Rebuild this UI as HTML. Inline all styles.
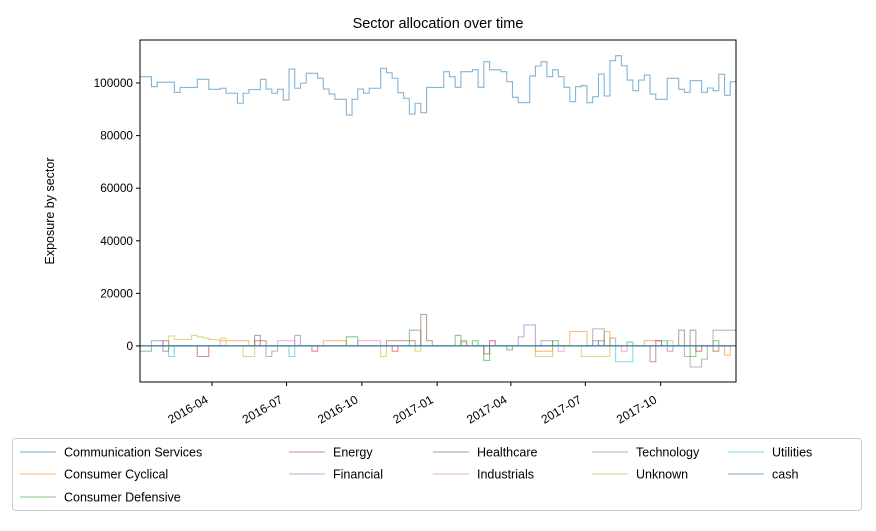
<!DOCTYPE html>
<html><head><meta charset="utf-8"><style>
body{margin:0;background:#fff;}
svg text{font-family:"Liberation Sans","DejaVu Sans",sans-serif;fill:#000;}
</style></head><body>
<svg id="chart" width="876" height="526" viewBox="0 0 876 526" xmlns="http://www.w3.org/2000/svg">
<rect width="876" height="526" fill="#fff"/>
<text x="438" y="28" text-anchor="middle" font-size="14.5">Sector allocation over time</text>
<text transform="translate(54,211) rotate(-90)" text-anchor="middle" font-size="12.5">Exposure by sector</text>
<g id="series"></g>
<g id="axes"></g>
<g id="legend"></g>
</svg>
<script>
const startDate = "2016-01-04";
const sectorNames = ["Communication Services","Consumer Cyclical","Consumer Defensive","Energy","Financial","Healthcare","Industrials","Technology","Unknown","Utilities","cash"];
const sectorColors = ["#1f77b4","#ff7f0e","#2ca02c","#d62728","#9467bd","#8c564b","#e377c2","#7f7f7f","#bcbd22","#17becf","#1f77b4"];
const commServices = [102400,102400,98600,100300,100300,100300,96400,98300,98300,98300,
101400,101400,97600,97600,98000,96100,96100,92300,96100,97500,
97500,101400,97700,96100,97600,93500,105300,98000,99900,103700,
103700,101800,97700,95800,93800,93800,87800,93800,97700,96100,
98000,98000,105600,103900,101800,96300,94200,88200,92300,88700,
98300,98300,98300,104300,102400,98350,104300,104300,105060,98350,
108100,105000,105000,104300,100500,94560,92500,92500,102650,106460,
108100,102400,105000,102400,98350,92900,98600,98980,92500,94800,
103400,95050,108480,110380,106590,101130,97080,101130,103030,95800,
93800,93800,101770,101770,97600,96450,100880,100880,96450,98100,
97080,103300,95300,100500];
const consumerCyclical = [0,0,0,0,0,0,0,0,0,0, 0,0,0,0,2000,2000,2000,2000,2000,0, 0,0,0,0,0,0,0,0,0,0, 0,0,2000,2000,2000,2000,0,0,0,0, 0,0,0,0,0,0,0,0,0,0, 0,0,0,0,0,0,1500,0,0,0, 0,0,0,0,0,0,0,0,0,-2000, -2000,-2000,0,0,0,5500,5500,5500,0,0, 0,5500,0,0,0,0,0,0,2000,2000, 2000,0,0,0,0,0,0,0,0,0, 0,0,-3500,0];
const consumerDefensive = [-2000,-2000,0,0,0,0,0,0,0,0, 0,0,0,0,0,0,0,0,0,0, 0,0,0,0,0,0,0,0,0,0, 0,0,0,0,0,0,3500,3500,0,0, 0,0,0,0,0,0,0,6000,6000,0, 0,0,0,0,0,4000,0,0,2000,0, -5500,0,0,0,-1500,0,0,0,0,0, 0,0,2000,0,0,0,0,0,0,0, 2000,0,0,0,0,1500,0,0,0,0, 0,0,0,0,0,0,-4000,0,0,0, 2000,0,0,0];
const energy = [0,0,0,0,2000,0,0,0,0,0, -4000,-4000,0,0,0,0,0,0,0,0, 2000,0,0,0,0,0,0,0,0,0, -2000,0,0,0,0,0,0,0,0,0, 0,0,0,0,-2000,0,0,0,0,0, 0,0,0,0,0,0,0,0,0,0, 0,2000,0,0,0,0,0,0,0,0, 0,0,0,0,0,0,0,0,0,0, 0,0,0,0,0,0,0,0,0,0, 2000,0,0,0,0,0,0,-2000,0,0, 0,0,0,0];
const financial = [0,0,2000,2000,0,0,0,0,0,0, 0,0,0,0,0,0,0,0,0,0, 0,0,0,0,0,0,0,4000,0,0, 0,0,0,0,0,0,0,0,0,0, 0,0,0,0,0,0,0,0,0,0, 0,0,0,0,0,0,0,0,0,0, 0,0,0,0,0,0,3500,8000,8000,0, 0,0,0,0,0,0,0,0,0,2000, 0,0,0,0,0,0,0,0,0,0, 0,0,-2000,0,0,0,0,0,0,0, 0,0,0,0];
const healthcare = [0,0,0,0,-2000,0,0,0,0,0, 0,0,0,0,0,0,0,0,0,0, 4000,2000,0,0,0,0,0,0,0,0, 0,0,0,0,0,0,0,0,0,0, 0,0,0,2000,2000,2000,2000,2000,0,12000, 2000,0,0,0,0,0,0,0,0,0, -3000,0,0,0,0,0,0,0,0,0, 0,0,0,0,0,0,0,0,0,0, 0,0,0,0,0,0,0,0,0,-6000, 0,0,0,0,6000,0,6000,0,0,0, -2000,0,0,0];
const industrials = [0,0,0,0,0,0,0,0,0,0, 0,0,0,0,0,0,0,0,0,0, 0,0,0,0,2000,2000,2000,0,0,0, 0,0,0,0,0,0,0,0,2000,2000, 2000,2000,0,0,0,0,0,0,0,0, 0,0,0,0,0,0,0,0,0,0, 0,2000,0,0,0,0,0,0,0,0, 0,0,0,-2000,0,0,0,0,0,0, 0,0,0,0,-2000,0,0,0,0,0, 0,0,0,0,0,0,0,0,0,0, 0,0,0,0];
const technology = [0,0,0,0,0,0,0,0,0,0, 0,0,0,0,0,0,0,0,0,0, 0,0,-4000,-2000,0,0,0,0,0,0, 0,0,0,0,0,0,0,0,0,0, 0,0,0,0,0,0,0,0,0,0, 0,0,0,0,0,0,2000,0,0,0, 0,0,0,0,0,0,0,0,0,0, 2000,2000,0,0,0,0,0,0,0,6500, 6500,0,3000,0,0,0,0,0,0,0, 0,0,0,0,0,-4000,-8000,-8000,-5000,0, 6000,6000,6000,6000];
const unknown = [0,0,0,0,0,3800,2500,2500,2500,4000, 3500,3000,2500,2300,3000,0,0,0,-4000,-4000, 0,0,0,0,0,0,0,0,0,0, 0,0,0,0,0,0,0,0,0,0, 0,0,-4000,0,0,0,0,0,-2000,0, 0,0,0,0,0,0,0,0,0,0, 0,0,0,0,0,0,0,0,0,-4000, -4000,-4000,0,0,0,0,0,-4000,-4000,-4000, -4000,-4000,0,0,0,0,0,0,0,0, 0,0,2000,0,0,0,0,0,0,0, 0,0,0,0];
const utilities = [0,0,0,0,0,-4000,0,0,0,0, 0,0,0,0,0,0,0,0,0,0, 0,0,0,0,0,0,-4000,0,0,0, 0,0,0,0,0,0,0,0,0,0, 0,0,0,0,0,0,0,0,0,0, 0,0,0,0,0,0,0,0,0,0, 0,0,0,0,0,0,0,0,0,0, 0,0,0,0,0,0,0,0,0,0, 0,0,0,-6000,-6000,-6000,0,0,0,0, 0,2000,0,0,0,0,0,0,0,0, 0,0,0,0];
const cash = new Array(104).fill(0);
const yTicks = [0,20000,40000,60000,80000,100000];
const xTickLabels = ["2016-04","2016-07","2016-10","2017-01","2017-04","2017-07","2017-10"];

const NS="http://www.w3.org/2000/svg";
const L=140,R=736,T=40,B=382;
const Y0=-13700,Y1=116350;
const nWeeks=104;
const t0=new Date(startDate+"T00:00:00Z").getTime();
const DAY=86400000;
function xDay(d){return L+(d/7)*(R-L)/nWeeks;}
function xs(i){return L+i*(R-L)/nWeeks;}
function ys(v){return B-(v-Y0)/(Y1-Y0)*(B-T);}
function mk(tag,attrs,parent){const e=document.createElementNS(NS,tag);for(const k in attrs)e.setAttribute(k,attrs[k]);parent.appendChild(e);return e;}

const allSeries=[commServices,consumerCyclical,consumerDefensive,energy,financial,healthcare,industrials,technology,unknown,utilities,cash];
const sg=document.getElementById('series');
const clip=mk('clipPath',{id:'pc'},sg);mk('rect',{x:L,y:T,width:R-L,height:B-T},clip);
allSeries.forEach((s,k)=>{
  let d="M"+xs(0).toFixed(2)+","+ys(s[0]).toFixed(2);
  for(let i=0;i<s.length;i++){
    d+=" V"+ys(s[i]).toFixed(2)+" H"+xs(i+1).toFixed(2);
  }
  const p=mk('path',{d:d,fill:'none',stroke:sectorColors[k],'stroke-width':1.1,'stroke-opacity':k===10?0.8:0.55,'clip-path':'url(#pc)'},sg);
  
  
});

const ax=document.getElementById('axes');
const frame=mk('rect',{x:L,y:T,width:R-L,height:B-T,fill:'none',stroke:'#000','stroke-width':1},ax);


yTicks.forEach(v=>{
  const y=ys(v);
  const tk=mk('line',{x1:L-4,x2:L,y1:y,y2:y,stroke:'#000','stroke-width':1},ax);
  
  
  const tx=mk('text',{x:L-7,y:y+4,'text-anchor':'end','font-size':11.8},ax);
  tx.textContent=String(v);
  
  
});
xTickLabels.forEach(lbl=>{
  const t=new Date(lbl+"-01T00:00:00Z").getTime();
  const x=xDay((t-t0)/DAY);
  const tk=mk('line',{x1:x,x2:x,y1:B,y2:B+4,stroke:'#000','stroke-width':1},ax);
  
  
  const tx=mk('text',{transform:'translate('+(x-3)+','+(B+20)+') rotate(-30)','text-anchor':'end','font-size':12},ax);
  tx.textContent=lbl;
  
  
});

const lg=document.getElementById('legend');
const box=mk('rect',{x:12.5,y:438.5,width:849,height:72,rx:3,fill:'#fff',stroke:'#ccc','stroke-width':1},lg);


const colX=[20,289,433,592,728];
const rowY=[452,474,497];
const order=[[0,0],[1,0],[2,0],[3,1],[4,1],[5,2],[6,2],[7,3],[8,3],[9,4],[10,4]];
let rowIdx={};
order.forEach(([k,c])=>{
  rowIdx[c]=(rowIdx[c]||0);
  const y=rowY[rowIdx[c]++];
  const ln=mk('line',{x1:colX[c],x2:colX[c]+36,y1:y,y2:y,stroke:sectorColors[k],'stroke-width':1.1,'stroke-opacity':0.6},lg);
  
  
  const tx=mk('text',{x:colX[c]+44,y:y+4.5,'font-size':12.5},lg);
  tx.textContent=sectorNames[k];
  
  
});
</script>
</body></html>
